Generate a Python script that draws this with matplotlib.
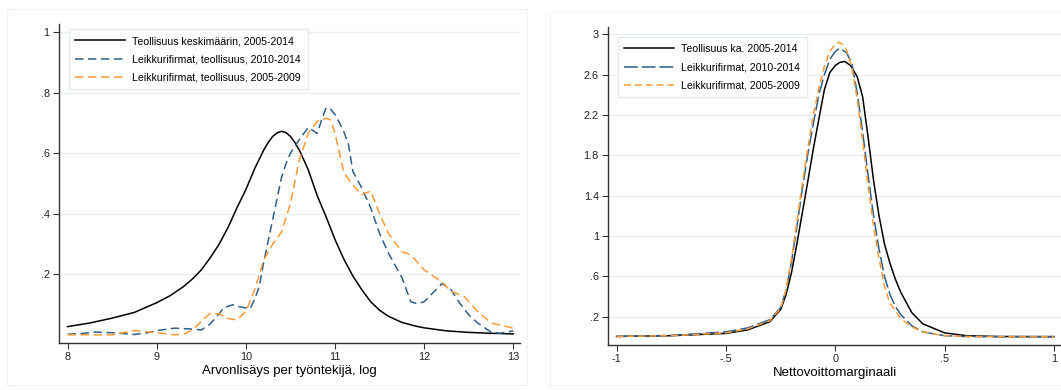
"""Kaksi tiheyskuvaa: arvonlisäys per työntekijä ja nettovoittomarginaali."""
import matplotlib
matplotlib.use("Agg")
import matplotlib.pyplot as plt
from matplotlib.patches import Rectangle

plt.rcParams["font.family"] = ["Liberation Sans", "DejaVu Sans"]

# --- vasen kuva: arvonlisäys per työntekijä, log ---
avg_x = [8, 8.25, 8.5, 8.75, 9, 9.15, 9.3, 9.4, 9.5, 9.6, 9.7, 9.8, 9.9, 10,
         10.1, 10.2, 10.25, 10.3, 10.35, 10.4, 10.45, 10.5, 10.55, 10.6, 10.7,
         10.8, 10.9, 11, 11.1, 11.2, 11.3, 11.4, 11.5, 11.6, 11.75, 11.9, 12,
         12.25, 12.5, 12.75, 13]
avg_y = [0.028, 0.040, 0.056, 0.075, 0.107, 0.13, 0.16, 0.185, 0.215, 0.255,
         0.30, 0.355, 0.42, 0.48, 0.55, 0.61, 0.635, 0.655, 0.667, 0.672, 0.668,
         0.655, 0.635, 0.61, 0.545, 0.46, 0.39, 0.315, 0.25, 0.195, 0.15, 0.11,
         0.082, 0.062, 0.042, 0.03, 0.024, 0.014, 0.009, 0.006, 0.004]

late_x = [8, 8.15, 8.3, 8.5, 8.75, 8.9, 9, 9.2, 9.4, 9.5, 9.6, 9.7, 9.75, 9.85,
          9.95, 10.05, 10.1, 10.15, 10.2, 10.3, 10.4, 10.45, 10.5, 10.6, 10.7,
          10.8, 10.85, 10.9, 10.95, 11, 11.05, 11.1, 11.15, 11.2, 11.3, 11.4,
          11.5, 11.6, 11.75, 11.85, 11.92, 12, 12.1, 12.2, 12.3, 12.4, 12.5,
          12.6, 12.75, 12.85, 13]
late_y = [0.003, 0.005, 0.01, 0.008, 0.002, 0.008, 0.015, 0.023, 0.02, 0.017,
          0.037, 0.07, 0.09, 0.10, 0.092, 0.088, 0.12, 0.16, 0.24, 0.38, 0.52,
          0.565, 0.60, 0.645, 0.685, 0.665, 0.71, 0.75, 0.745, 0.727, 0.70, 0.67,
          0.63, 0.54, 0.485, 0.42, 0.335, 0.27, 0.19, 0.11, 0.104, 0.11, 0.14,
          0.17, 0.15, 0.105, 0.067, 0.04, 0.01, 0.006, 0.014]

early_x = [8, 8.5, 8.75, 9, 9.2, 9.3, 9.4, 9.5, 9.6, 9.7, 9.8, 9.9, 10, 10.1,
           10.2, 10.3, 10.4, 10.5, 10.6, 10.7, 10.8, 10.9, 10.95, 11, 11.1, 11.2,
           11.3, 11.4, 11.5, 11.6, 11.75, 11.85, 12, 12.2, 12.3, 12.45, 12.6,
           12.75, 13]
early_y = [0.001, 0.001, 0.015, 0.008, 0.001, 0.003, 0.017, 0.045, 0.072, 0.07,
           0.055, 0.05, 0.078, 0.15, 0.248, 0.30, 0.34, 0.435, 0.578, 0.665, 0.705,
           0.715, 0.71, 0.665, 0.535, 0.495, 0.463, 0.475, 0.40, 0.335, 0.275,
           0.265, 0.215, 0.175, 0.145, 0.127, 0.078, 0.04, 0.023]

left_yticks = [0.2, 0.4, 0.6, 0.8, 1]
left_yticklabels = [".2", ".4", ".6", ".8", "1"]
left_xticks = [8, 9, 10, 11, 12, 13]

# --- oikea kuva: nettovoittomarginaali ---
m_avg_x = [-1, -0.75, -0.5, -0.4, -0.3, -0.25, -0.225, -0.2, -0.175, -0.15,
           -0.125, -0.1, -0.075, -0.05, -0.025, 0, 0.02, 0.043, 0.07, 0.1, 0.125,
           0.15, 0.175, 0.2, 0.225, 0.25, 0.275, 0.3, 0.35, 0.4, 0.5, 0.6, 0.75, 1]
m_avg_y = [0.005, 0.012, 0.035, 0.07, 0.15, 0.27, 0.42, 0.64, 0.93, 1.24, 1.55,
           1.87, 2.16, 2.45, 2.62, 2.69, 2.72, 2.73, 2.69, 2.58, 2.38, 1.98, 1.55,
           1.2, 0.92, 0.73, 0.57, 0.44, 0.24, 0.13, 0.04, 0.012, 0.004, 0.003]

m_late_x = [-1, -0.75, -0.5, -0.4, -0.3, -0.25, -0.225, -0.2, -0.175, -0.15,
            -0.125, -0.1, -0.075, -0.05, -0.025, 0, 0.02, 0.05, 0.075, 0.1, 0.125,
            0.15, 0.175, 0.2, 0.225, 0.25, 0.275, 0.3, 0.35, 0.4, 0.5, 0.6, 0.75, 1]
m_late_y = [0.005, 0.015, 0.05, 0.09, 0.17, 0.29, 0.46, 0.75, 1.1, 1.48, 1.82,
            2.12, 2.4, 2.6, 2.75, 2.83, 2.86, 2.82, 2.72, 2.42, 2.03, 1.6, 1.2,
            0.87, 0.6, 0.42, 0.3, 0.22, 0.11, 0.05, 0.012, 0.004, 0.002, 0.002]

m_early_x = [-1, -0.75, -0.5, -0.4, -0.3, -0.25, -0.225, -0.2, -0.175, -0.15,
             -0.125, -0.1, -0.075, -0.05, -0.025, 0, 0.017, 0.04, 0.05, 0.075, 0.1,
             0.125, 0.15, 0.175, 0.2, 0.225, 0.25, 0.275, 0.3, 0.35, 0.4, 0.5,
             0.6, 0.75, 1]
m_early_y = [0.005, 0.012, 0.04, 0.08, 0.16, 0.28, 0.47, 0.78, 1.15, 1.53, 1.88,
             2.2, 2.47, 2.68, 2.83, 2.9, 2.92, 2.89, 2.85, 2.68, 2.36, 1.95, 1.5,
             1.1, 0.78, 0.5, 0.33, 0.26, 0.18, 0.1, 0.05, 0.012, 0.005, 0.003, 0.003]

right_yticks = [0.2, 0.6, 1, 1.4, 1.8, 2.2, 2.6, 3]
right_yticklabels = [".2", ".6", "1", "1.4", "1.8", "2.2", "2.6", "3"]
right_xticks = [-1, -0.5, 0, 0.5, 1]
right_xticklabels = ["-1", "-.5", "0", ".5", "1"]

BLUE = "#2f5e8a"
ORANGE = "#fd9a34"
GRID = "#e7eff1"


def style_axes(ax):
    for side in ("top", "right"):
        ax.spines[side].set_visible(False)
    for side in ("left", "bottom"):
        ax.spines[side].set_color("#333333")
        ax.spines[side].set_linewidth(1.0)
    ax.tick_params(direction="out", length=4.3, width=0.8, colors="#333333",
                   labelsize=7.8, labelcolor="#222222", pad=2.5)
    ax.yaxis.grid(True, color=GRID, linewidth=1.0)
    ax.set_axisbelow(True)


def style_legend(leg):
    leg.get_frame().set_edgecolor("#e4ecee")
    leg.get_frame().set_linewidth(1.0)


LEG_KW = dict(loc="upper left", fontsize=7.6, handlelength=4.7,
              handletextpad=0.7, labelspacing=0.78, borderpad=0.65,
              fancybox=False, framealpha=1)

fig = plt.figure(figsize=(10.61, 3.90), dpi=100)

# faint panel frames
fig.add_artist(Rectangle((0.0064, 0.013), 0.49, 0.963, transform=fig.transFigure,
                         fill=False, edgecolor="#eef3f4", linewidth=1.0))
fig.add_artist(Rectangle((0.518, 0.013), 0.49, 0.956, transform=fig.transFigure,
                         fill=False, edgecolor="#eef3f4", linewidth=1.0))

ax1 = fig.add_axes([0.0558, 0.1205, 0.4343, 0.818])
style_axes(ax1)
ax1.plot(avg_x, avg_y, color="black", linewidth=1.1,
         label="Teollisuus keskimäärin, 2005-2014")
ax1.plot(late_x, late_y, color=BLUE, linewidth=1.1, dashes=(5.5, 3),
         label="Leikkurifirmat, teollisuus, 2010-2014")
ax1.plot(early_x, early_y, color=ORANGE, linewidth=1.1, dashes=(5.5, 3),
         label="Leikkurifirmat, teollisuus, 2005-2009")
ax1.set_xlim(7.906, 13.075)
ax1.set_ylim(-0.026, 1.026)
ax1.set_xticks(left_xticks)
ax1.set_yticks(left_yticks)
ax1.set_yticklabels(left_yticklabels)
ax1.set_xlabel("Arvonlisäys per työntekijä, log", fontsize=9.5, labelpad=1.5)
style_legend(ax1.legend(bbox_to_anchor=(0.009, 1.0), **LEG_KW))

ax2 = fig.add_axes([0.5733, 0.1154, 0.4267, 0.815])
style_axes(ax2)
ax2.plot(m_avg_x, m_avg_y, color="black", linewidth=1.1,
         label="Teollisuus ka. 2005-2014")
ax2.plot(m_late_x, m_late_y, color=BLUE, linewidth=1.1, dashes=(9, 2.6),
         label="Leikkurifirmat, 2010-2014")
ax2.plot(m_early_x, m_early_y, color=ORANGE, linewidth=1.1, dashes=(4.5, 2.6),
         label="Leikkurifirmat, 2005-2009")
ax2.set_xlim(-1.038, 1.032)
ax2.set_ylim(-0.08, 3.07)
ax2.set_xticks(right_xticks)
ax2.set_xticklabels(right_xticklabels)
ax2.set_yticks(right_yticks)
ax2.set_yticklabels(right_yticklabels)
ax2.set_xlabel("Nettovoittomarginaali", fontsize=9.5, labelpad=1.5)
style_legend(ax2.legend(bbox_to_anchor=(0.009, 0.985), **LEG_KW))

plt.savefig("out.png", dpi=100)
plt.close()
